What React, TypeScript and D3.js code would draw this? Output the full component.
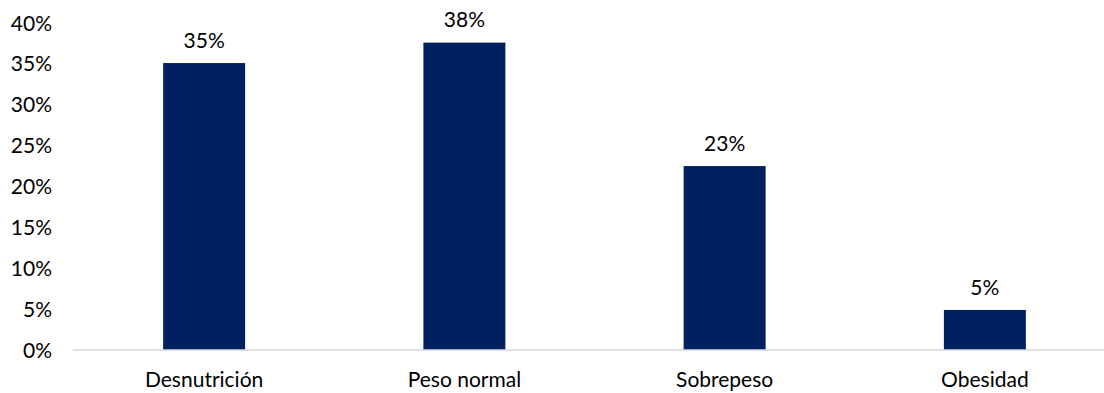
import React from "react";
import * as d3 from "d3";

const categories = ["Desnutrición", "Peso normal", "Sobrepeso", "Obesidad"];
const values = [35.1, 37.6, 22.5, 4.9];
const valueLabels = ["35%", "38%", "23%", "5%"];
const yTicks = [0, 5, 10, 15, 20, 25, 30, 35, 40];

const W = 1104;
const H = 393;
const FONT = "Lato, 'Open Sans', sans-serif";
const FS = 21;

export default function App() {
  const x = d3.scaleBand<string>().domain(categories).range([74, 1115]).padding(0);
  const y = d3.scaleLinear().domain([0, 40]).range([350, 23]);
  const barW = x.bandwidth() * 0.315;
  return (
    <svg width={W} height={H} style={{ position: "absolute", left: 0, top: 0 }}>
      <rect width={W} height={H} fill="#fff" />
      {yTicks.map((t) => (
        <text key={t} x={52} y={y(t)} dy="0.36em" textAnchor="end" fontFamily={FONT} fontSize={FS} fill="#000">
          {t + "%"}
        </text>
      ))}
      {categories.map((c, i) => {
        const cx = (x(c) as number) + x.bandwidth() / 2;
        return (
          <g key={c}>
            <rect x={cx - barW / 2} y={y(values[i])} width={barW} height={y(0) - y(values[i])} fill="#00205F" />
            <text x={cx} y={y(values[i]) - 23} dy="0.36em" textAnchor="middle" fontFamily={FONT} fontSize={FS} fill="#000">
              {valueLabels[i]}
            </text>
            <text x={cx} y={387} textAnchor="middle" fontFamily={FONT} fontSize={FS} fill="#000">
              {c}
            </text>
          </g>
        );
      })}
      <line x1={73} x2={W} y1={y(0)} y2={y(0)} stroke="#D9D9D9" strokeWidth={1.5} />
    </svg>
  );
}
